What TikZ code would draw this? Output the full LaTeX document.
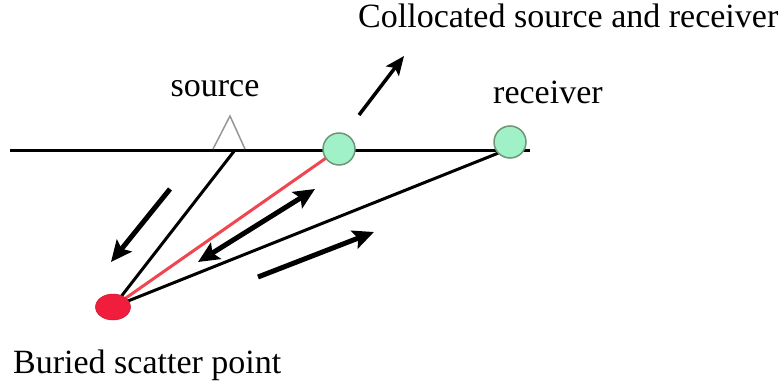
\documentclass[tikz,border=0pt]{standalone}
\usepackage{fontspec}
\setmainfont{Liberation Serif}
\usetikzlibrary{arrows.meta,shapes.geometric}
\definecolor{mint}{RGB}{160,240,200}
\definecolor{mintedge}{RGB}{110,150,120}
\definecolor{scat}{RGB}{240,30,60}
\definecolor{rayred}{RGB}{240,70,80}
\definecolor{trigray}{RGB}{150,150,150}
\tikzset{
  >={Stealth[length=21pt,width=19pt,inset=4pt]},
  lbl/.style={inner sep=0pt,font=\fontsize{34}{37}\selectfont},
  ray/.style={line width=3pt,black},
  bigarrow/.style={line width=5pt,->},
  geophone/.style={circle,draw=mintedge,fill=mint,line width=1.5pt,minimum size=32pt,inner sep=0pt},
  scatpt/.style={ellipse,fill=scat,draw=scat!80!black,line width=0.5pt,minimum width=35pt,minimum height=26pt,inner sep=0pt},
}
\begin{document}
\begin{tikzpicture}[x=1pt,y=-1pt]
\useasboundingbox (0,0) rectangle (781,385);
% surface
\coordinate (L) at (10,150);
\coordinate (Rend) at (530,150);
\coordinate (S) at (235,150);
\coordinate (Rs) at (506,150);
\draw[line width=3pt] (L) -- (Rend);
% source triangle
\draw[trigray,line width=1.5pt,line join=miter] (213,149) -- (230,116) -- (245,149);
% rays
\coordinate (Pc) at (113,307);
\coordinate (Cc) at (339,149);
\coordinate (Rc) at (510,142);
\draw[ray] (S) -- (Pc);
\draw[rayred,line width=3pt] (Cc) -- (Pc);
\draw[ray] (Rs) -- (Pc);
% points
\node[scatpt] (P) at (Pc) {};
\node[geophone] (C) at (Cc) {};
\node[geophone] (R) at (Rc) {};
% arrows
\coordinate (a1s) at (359,115); \coordinate (a1e) at (404,56);
\coordinate (a2s) at (170,189); \coordinate (a2e) at (111,262);
\coordinate (a3s) at (198,262); \coordinate (a3e) at (315,189);
\coordinate (a4s) at (258,277); \coordinate (a4e) at (374,232);
\draw[line width=3.5pt,-{Stealth[length=19pt,width=16pt,inset=4pt]}] (a1s) -- (a1e);
\draw[bigarrow] (a2s) -- (a2e);
\draw[line width=5pt,<->] (a3s) -- (a3e);
\draw[bigarrow] (a4s) -- (a4e);
% labels
\node[lbl,anchor=base west] (t1) at (358,28) {Collocated source and receiver};
\node[lbl,anchor=base] (t2) at (215,97) {source};
\node[lbl,anchor=base west] (t3) at (493,103) {receiver};
\node[lbl,anchor=base west] (t4) at (13,373) {Buried scatter point};
\end{tikzpicture}
\end{document}
